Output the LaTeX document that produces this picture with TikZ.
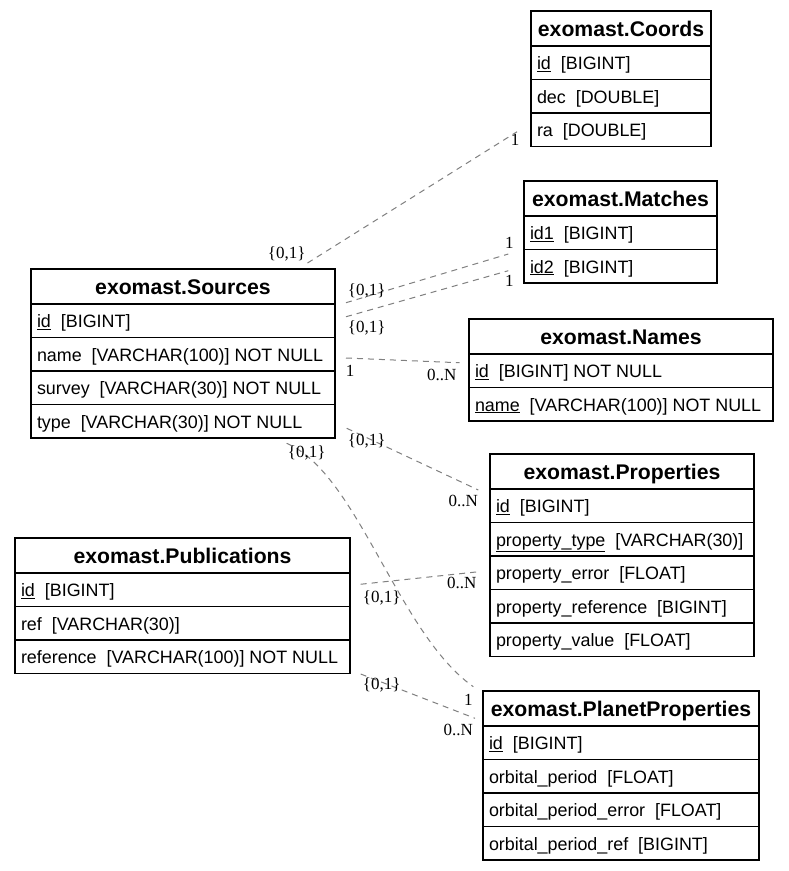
\documentclass[tikz,border=0pt]{standalone}
\usepackage{fontspec}
\setmainfont{Liberation Serif}
\newfontfamily\sansfam{Liberation Sans}
\newcommand\hdrfont{\sansfam\bfseries\fontsize{21.2}{24}\selectfont}
\newcommand\fldfont{\sansfam\fontsize{17.9}{21}\selectfont}
\newcommand\cardfont{\rmfamily\fontsize{17}{20}\selectfont}
\definecolor{relgray}{RGB}{128,128,128}
\tikzset{
  hdr/.style={draw, line width=1.2pt, anchor=north west, outer sep=0pt,
    minimum width=#1, minimum height=35pt, inner sep=0pt, font=\hdrfont,
    text height=15pt, text depth=0pt},
  fld/.style={draw, line width=1.2pt, anchor=north west, outer sep=0pt,
    minimum height=33.5pt, inner xsep=6pt, inner ysep=0pt, font=\fldfont,
    text height=13.5pt, text depth=0pt,
    execute at begin node={\hbox to #1\bgroup}, execute at end node={\hfil\egroup}},
  rel/.style={draw=relgray, line width=1pt, dash pattern=on 6pt off 5pt},
  card/.style={inner sep=0pt, font=\cardfont}
}
\begin{document}
\begin{tikzpicture}[x=1pt,y=-1pt]
\fill[white] (0,0) rectangle (789,871);
\useasboundingbox (0,0) rectangle (789,871);

% exomast.Coords
\node[hdr=180pt] (c-h) at (531,11) {exomast.Coords};
\node[fld=168pt] (c-id) at (531,46) {\underline{id}~~[BIGINT]};
\node[fld=168pt] (c-dec) at (531,79.5) {dec~~[DOUBLE]};
\node[fld=168pt] (c-ra) at (531,113) {ra~~[DOUBLE]};

% exomast.Matches
\node[hdr=193pt] (m-h) at (524,181) {exomast.Matches};
\node[fld=181pt] (m-id1) at (524,216) {\underline{id1}~~[BIGINT]};
\node[fld=181pt] (m-id2) at (524,249.5) {\underline{id2}~~[BIGINT]};

% exomast.Names
\node[hdr=304pt] (n-h) at (469,319) {exomast.Names};
\node[fld=292pt] (n-id) at (469,354) {\underline{id}~~[BIGINT] NOT NULL};
\node[fld=292pt] (n-name) at (469,387.5) {\underline{name}~~[VARCHAR(100)] NOT NULL};

% exomast.Properties
\node[hdr=264pt] (p-h) at (490,454) {exomast.Properties};
\node[fld=252pt] (p-id) at (490,489) {\underline{id}~~[BIGINT]};
\node[fld=252pt] (p-type) at (490,522.5) {\underline{property\_type}~~[VARCHAR(30)]};
\node[fld=252pt] (p-err) at (490,556) {property\_error~~[FLOAT]};
\node[fld=252pt] (p-ref) at (490,589.5) {property\_reference~~[BIGINT]};
\node[fld=252pt] (p-val) at (490,623) {property\_value~~[FLOAT]};

% exomast.Sources
\node[hdr=304pt] (s-h) at (31,269) {exomast.Sources};
\node[fld=292pt] (s-id) at (31,304) {\underline{id}~~[BIGINT]};
\node[fld=292pt] (s-name) at (31,337.5) {name~~[VARCHAR(100)] NOT NULL};
\node[fld=292pt] (s-survey) at (31,371) {survey~~[VARCHAR(30)] NOT NULL};
\node[fld=292pt] (s-type) at (31,404.5) {type~~[VARCHAR(30)] NOT NULL};

% exomast.Publications
\node[hdr=335pt] (u-h) at (15,538) {exomast.Publications};
\node[fld=323pt] (u-id) at (15,573) {\underline{id}~~[BIGINT]};
\node[fld=323pt] (u-ref) at (15,606.5) {ref~~[VARCHAR(30)]};
\node[fld=323pt] (u-reference) at (15,640) {reference~~[VARCHAR(100)] NOT NULL};

% exomast.PlanetProperties
\node[hdr=276pt] (pp-h) at (483,691) {exomast.PlanetProperties};
\node[fld=264pt] (pp-id) at (483,726) {\underline{id}~~[BIGINT]};
\node[fld=264pt] (pp-op) at (483,759.5) {orbital\_period~~[FLOAT]};
\node[fld=264pt] (pp-ope) at (483,793) {orbital\_period\_error~~[FLOAT]};
\node[fld=264pt] (pp-opr) at (483,826.5) {orbital\_period\_ref~~[BIGINT]};

% relations
\draw[rel] ([shift={(-27.5,-6)}]s-h.north east) -- ([shift={(-14,2)}]c-ra.west);
\draw[rel] ([shift={(11,-1.3)}]s-id.north east) -- ([shift={(-15.7,4.5)}]m-id2.north west);
\draw[rel] ([shift={(11,-4)}]s-id.east) -- ([shift={(-15.7,4.45)}]m-id2.west);
\draw[rel] ([shift={(11,3.75)}]s-name.east) -- ([shift={(-9.5,-8)}]n-id.west);
\draw[rel] ([shift={(11.7,7)}]s-type.east) -- ([shift={(-11.7,-15.75)}]p-id.west);
\draw[rel] ([shift={(10.7,-5.5)}]u-id.east) -- ([shift={(-11.7,-1)}]p-err.west);
\draw[rel] ([shift={(-48.3,5.3)}]s-type.south east) .. controls (358,474) and (397.5,633) .. ([shift={(-9.7,-21.8)}]pp-h.west);
\draw[rel] ([shift={(10.7,0.5)}]u-reference.south east) -- ([shift={(-8,9.8)}]pp-h.west);

% cardinalities
\node[card] (l1a) at (286.7,254.3) {\{0,1\}};
\node[card] (l1b) at (515,140) {1};
\node[card] (l2a) at (366.7,291) {\{0,1\}};
\node[card] (l2b) at (509.3,243.3) {1};
\node[card] (l3a) at (366.7,328.3) {\{0,1\}};
\node[card] (l3b) at (509.3,281) {1};
\node[card] (l4a) at (350,370.7) {1};
\node[card] (l4b) at (441.7,375) {0..N};
\node[card] (l5a) at (366.7,440.7) {\{0,1\}};
\node[card] (l5b) at (463.3,501) {0..N};
\node[card] (l6a) at (381.7,598.3) {\{0,1\}};
\node[card] (l6b) at (461.7,582.7) {0..N};
\node[card] (l7a) at (306.7,453.3) {\{0,1\}};
\node[card] (l7b) at (468.3,700) {1};
\node[card] (l8a) at (381.7,685) {\{0,1\}};
\node[card] (l8b) at (458.3,730) {0..N};
\end{tikzpicture}
\end{document}
